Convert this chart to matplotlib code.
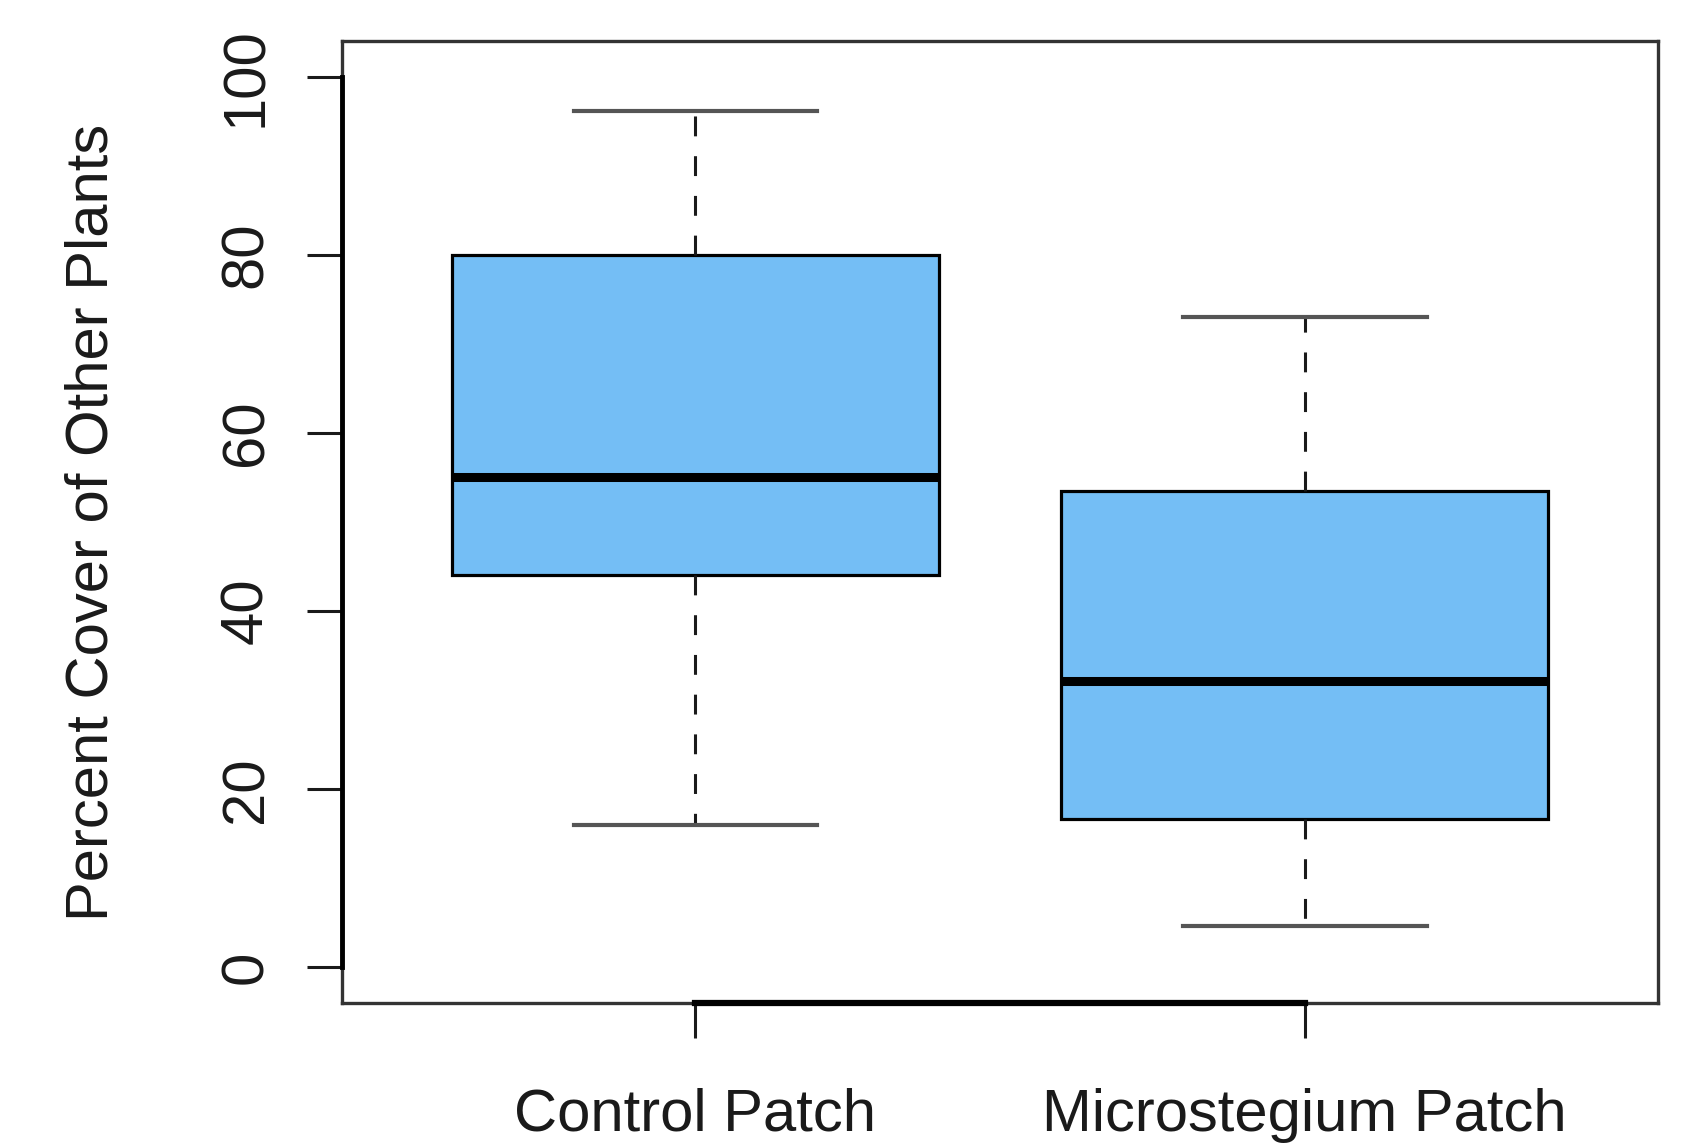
#!/usr/bin/env python3
"""R-style boxplot: percent cover of other plants, control vs Microstegium patch."""

import matplotlib

matplotlib.use("Agg")
import matplotlib.pyplot as plt
import matplotlib.transforms as mtransforms

plt.rcParams["font.family"] = ["Liberation Sans", "DejaVu Sans"]

# Five-number summaries
groups = ["Control Patch", "Microstegium Patch"]
whisker_low = [16.0, 4.6]
q1 = [44.1, 16.6]
median = [55.1, 32.2]
q3 = [80.0, 53.5]
whisker_high = [96.1, 73.0]
y_ticks = [0, 20, 40, 60, 80, 100]

BOX_COLOR = "#74BEF5"
INK = "#1a1a1a"
FS = 43

fig = plt.figure(figsize=(16.9, 11.46), dpi=100, facecolor="white")
ax = fig.add_axes([0.2024, 0.1248, 0.7787, 0.8394])

stats = [
    {"label": g, "whislo": lo, "q1": a, "med": m, "q3": b, "whishi": hi, "fliers": []}
    for g, lo, a, m, b, hi in zip(groups, whisker_low, q1, median, q3, whisker_high)
]
ax.bxp(
    stats,
    positions=[1, 2],
    widths=0.8,
    capwidths=0.4,
    patch_artist=True,
    showfliers=False,
    boxprops=dict(facecolor=BOX_COLOR, edgecolor="black", linewidth=2.3),
    medianprops=dict(color="black", linewidth=6.5, solid_capstyle="butt"),
    whiskerprops=dict(color=INK, linewidth=2.2, linestyle=(0, (6.5, 6.5))),
    capprops=dict(color="#555555", linewidth=3.0),
)

ax.set_xlim(0.42, 2.58)
ax.set_ylim(-4, 104)
ax.set_yticks(y_ticks)
ax.set_yticklabels([str(t) for t in y_ticks], rotation=90, va="center")
ax.set_xticks([1, 2])
ax.set_xticklabels(groups)

ax.tick_params(axis="both", length=25, width=2.2, color=INK, labelcolor=INK, labelsize=FS)
ax.tick_params(axis="y", pad=24)
ax.tick_params(axis="x", pad=36)

for spine in ax.spines.values():
    spine.set_linewidth(2.4)
    spine.set_color("#333333")

# R draws the axis line only across the tick range, on top of the frame
xt = mtransforms.blended_transform_factory(ax.transData, ax.transAxes)
ax.plot([1, 2], [0, 0], transform=xt, color="black", lw=4.5, clip_on=False, zorder=5)
yt = mtransforms.blended_transform_factory(ax.transAxes, ax.transData)
ax.plot([0, 0], [0, 100], transform=yt, color="black", lw=3.5, clip_on=False, zorder=5)

ax.text(
    -0.19, 0.5, "Percent Cover of Other Plants",
    transform=ax.transAxes, rotation=90, ha="center", va="center",
    fontsize=FS, color=INK,
)

fig.savefig("out.png", dpi=100, facecolor="white")
